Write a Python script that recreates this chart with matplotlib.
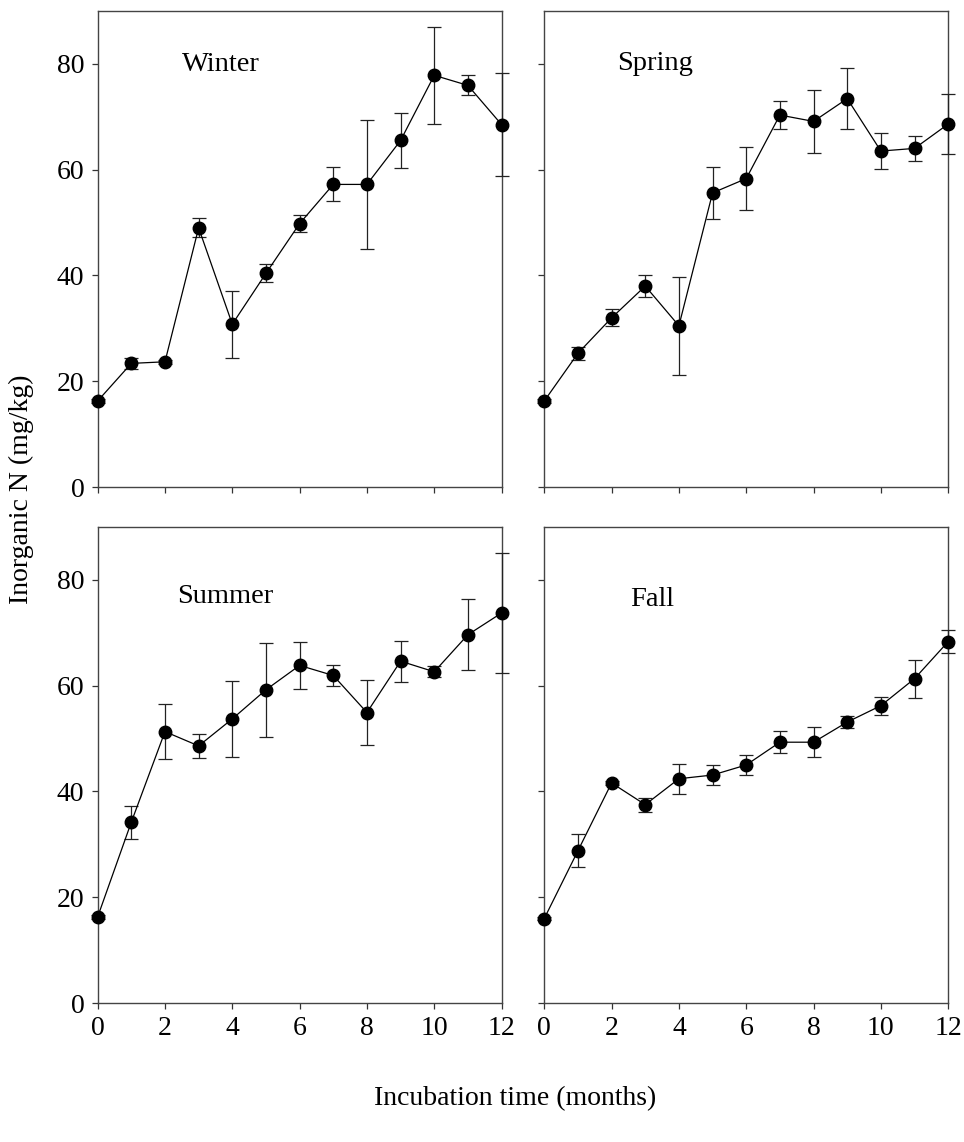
import matplotlib
matplotlib.use("Agg")
import matplotlib.pyplot as plt
import numpy as np

# incubation months
months = list(range(13))

# inorganic N (mg/kg) and error bars
winter = [16.3, 23.4, 23.7, 49.0, 30.8, 40.4, 49.8, 57.2, 57.2, 65.5, 77.8, 75.9, 68.5]
winter_err = [0.3, 1.1, 0.4, 1.8, 6.3, 1.7, 1.6, 3.2, 12.2, 5.2, 9.2, 1.9, 9.8]

spring = [16.3, 25.3, 32.0, 38.0, 30.5, 55.6, 58.3, 70.3, 69.1, 73.4, 63.5, 64.0, 68.6]
spring_err = [0.3, 1.2, 1.6, 2.1, 9.3, 4.9, 6.0, 2.7, 6.0, 5.8, 3.4, 2.4, 5.6]

summer = [16.3, 34.2, 51.3, 48.6, 53.7, 59.2, 63.8, 61.9, 54.9, 64.6, 62.6, 69.6, 73.7]
summer_err = [0.3, 3.1, 5.2, 2.3, 7.2, 8.9, 4.4, 1.9, 6.1, 3.9, 1.0, 6.7, 11.3]

fall = [16.0, 28.8, 41.6, 37.5, 42.4, 43.1, 45.0, 49.3, 49.3, 53.1, 56.2, 61.3, 68.3]
fall_err = [0.3, 3.1, 0.4, 1.3, 2.8, 1.9, 1.9, 2.1, 2.8, 1.1, 1.7, 3.6, 2.1]

seasons = ["Winter", "Spring", "Summer", "Fall"]
# text anchor (month, value) for each season label
label_pos = [(2.5, 79.8), (2.15, 80.0), (2.35, 76.8), (2.55, 76.3)]

plt.rcParams['font.family'] = ['Liberation Serif', 'DejaVu Serif']
plt.rcParams['font.size'] = 20

fig = plt.figure(figsize=(9.64, 11.42), dpi=100)

# axes rectangles in figure fractions
lefts = [0.1013, 0.5646]
width = 0.419
bottoms = [0.5733, 0.1215]
height = 0.4173

data = [(winter, winter_err), (spring, spring_err), (summer, summer_err), (fall, fall_err)]

for k, (vals, errs) in enumerate(data):
    row, col = divmod(k, 2)
    ax = fig.add_axes([lefts[col], bottoms[row], width, height])
    ax.errorbar(months, vals, yerr=errs, fmt='-o', color='black', ecolor='#222222',
                elinewidth=0.9, capsize=5, capthick=0.9, lw=0.9,
                markersize=9, clip_on=False, zorder=3)
    ax.set_xlim(0, 12)
    ax.set_ylim(0, 90)
    ax.set_xticks(range(0, 13, 2))
    ax.set_yticks(range(0, 81, 20))
    ax.tick_params(direction='out', length=4.5, width=0.9, color='#333333', pad=5)
    for sp in ax.spines.values():
        sp.set_color('#444444')
        sp.set_linewidth(1.0)
    if row == 0:
        ax.set_xticklabels([])
    if col == 1:
        ax.set_yticklabels([])
    tx, ty = label_pos[k]
    ax.text(tx, ty, seasons[k], fontsize=20.5, ha='left', va='center')

fig.text(0.534, 0.038, "Incubation time (months)", ha='center', va='center', fontsize=20)
fig.text(0.022, 0.572, "Inorganic N (mg/kg)", ha='center', va='center', rotation=90, fontsize=20)

fig.savefig("out.png", dpi=100)
